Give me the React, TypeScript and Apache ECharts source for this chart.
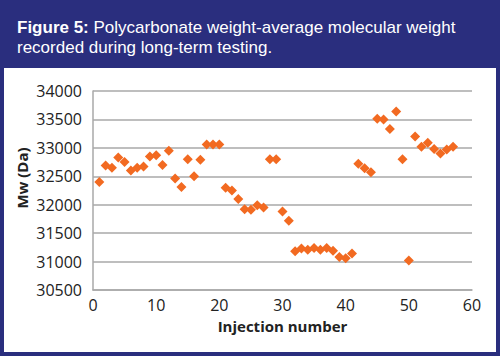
import React, { useEffect, useRef } from "react";
import * as echarts from "echarts";

const injection = [
  1, 2, 3, 4, 5, 6, 7, 8, 9, 10, 11, 12, 13, 14, 15, 16, 17, 18, 19, 20,
  21, 22, 23, 24, 25, 26, 27, 28, 29, 30, 31, 32, 33, 34, 35, 36, 37, 38, 39, 40,
  41, 42, 43, 44, 45, 46, 47, 48, 49, 50, 51, 52, 53, 54, 55, 56, 57,
];
const mw = [
  32400, 32690, 32650, 32830, 32750, 32600, 32650, 32670, 32850, 32870,
  32700, 32950, 32460, 32310, 32800, 32500, 32790, 33060, 33060, 33060,
  32300, 32250, 32100, 31920, 31910, 31990, 31950, 32800, 32800, 31880,
  31720, 31180, 31230, 31210, 31240, 31210, 31240, 31190, 31080, 31060,
  31140, 32720, 32640, 32570, 33510, 33500, 33330, 33640, 32800, 31020,
  33200, 33020, 33090, 32980, 32900, 32970, 33020,
];
const xTicks = { min: 0, max: 60, interval: 10 };
const yTicks = { min: 30500, max: 34000, interval: 500 };
const titleBold = "Figure 5:";
const titleLine1 = " Polycarbonate weight-average molecular weight";
const titleLine2 = "recorded during long-term testing.";
const xName = "Injection number";
const yName = "Mw (Da)";

export default function App() {
  const ref = useRef<HTMLDivElement>(null);
  useEffect(() => {
    if (!ref.current) return;
    const chart = echarts.init(ref.current, null, { renderer: "svg" });
    const blue = "#2a2e7e";
    const grey = "#a9a9a9";
    chart.setOption({
      animation: false,
      backgroundColor: "#ffffff",
      title: {
        left: 12,
        top: 12,
        text: `{b|${titleBold}}{r|${titleLine1}}\n{r|${titleLine2}}`,
        textStyle: {
          fontWeight: "normal",
          rich: {
            b: { fontFamily: "Liberation Sans", fontWeight: "bold", fontSize: 17, color: "#ffffff", lineHeight: 20 },
            r: { fontFamily: "Liberation Sans", fontWeight: "normal", fontSize: 17, color: "#ffffff", lineHeight: 20 },
          },
        },
      },
      graphic: [
        { type: "rect", z: -10, shape: { x: 0, y: 0, width: 500, height: 68 }, style: { fill: blue } },
        { type: "rect", z: -10, shape: { x: 0, y: 0, width: 4, height: 356 }, style: { fill: blue } },
        { type: "rect", z: -10, shape: { x: 496, y: 0, width: 4, height: 356 }, style: { fill: blue } },
        { type: "rect", z: -10, shape: { x: 0, y: 352, width: 500, height: 4 }, style: { fill: blue } },
        {
          type: "text",
          x: 22,
          y: 178,
          rotation: Math.PI / 2,
          style: {
            text: yName,
            fontFamily: "Open Sans",
            fontWeight: "bold",
            fontSize: 15,
            fill: "#222222",
            align: "center",
            verticalAlign: "middle",
          },
        },
      ],
      grid: { left: 93, right: 28, top: 91, bottom: 66, containLabel: false },
      xAxis: {
        type: "value",
        min: xTicks.min,
        max: xTicks.max,
        interval: xTicks.interval,
        name: xName,
        nameLocation: "middle",
        nameGap: 28,
        nameTextStyle: { fontFamily: "Open Sans", fontWeight: "bold", fontSize: 15, color: "#222222" },
        axisLine: { show: true, lineStyle: { color: grey, width: 1.5 } },
        axisTick: { show: false },
        splitLine: { show: false },
        axisLabel: { fontFamily: "Open Sans", fontSize: 16, color: "#222222", margin: 7 },
      },
      yAxis: {
        type: "value",
        min: yTicks.min,
        max: yTicks.max,
        interval: yTicks.interval,
        axisLine: { show: true, lineStyle: { color: grey, width: 1.5 } },
        axisTick: { show: false },
        splitLine: { show: true, lineStyle: { color: grey, width: 1.5 } },
        axisLabel: {
          fontFamily: "Open Sans",
          fontSize: 16,
          color: "#222222",
          margin: 11,
          formatter: (v: number) => String(v),
        },
      },
      series: [
        {
          type: "scatter",
          symbol: "diamond",
          symbolSize: 10,
          itemStyle: { color: "#f26a21", opacity: 1 },
          data: injection.map((n, i) => [n, mw[i]]),
        },
      ],
    });
    return () => chart.dispose();
  }, []);
  return (
    <div
      ref={ref}
      style={{ position: "fixed", left: 0, top: 0, width: 500, height: 356 }}
    />
  );
}
